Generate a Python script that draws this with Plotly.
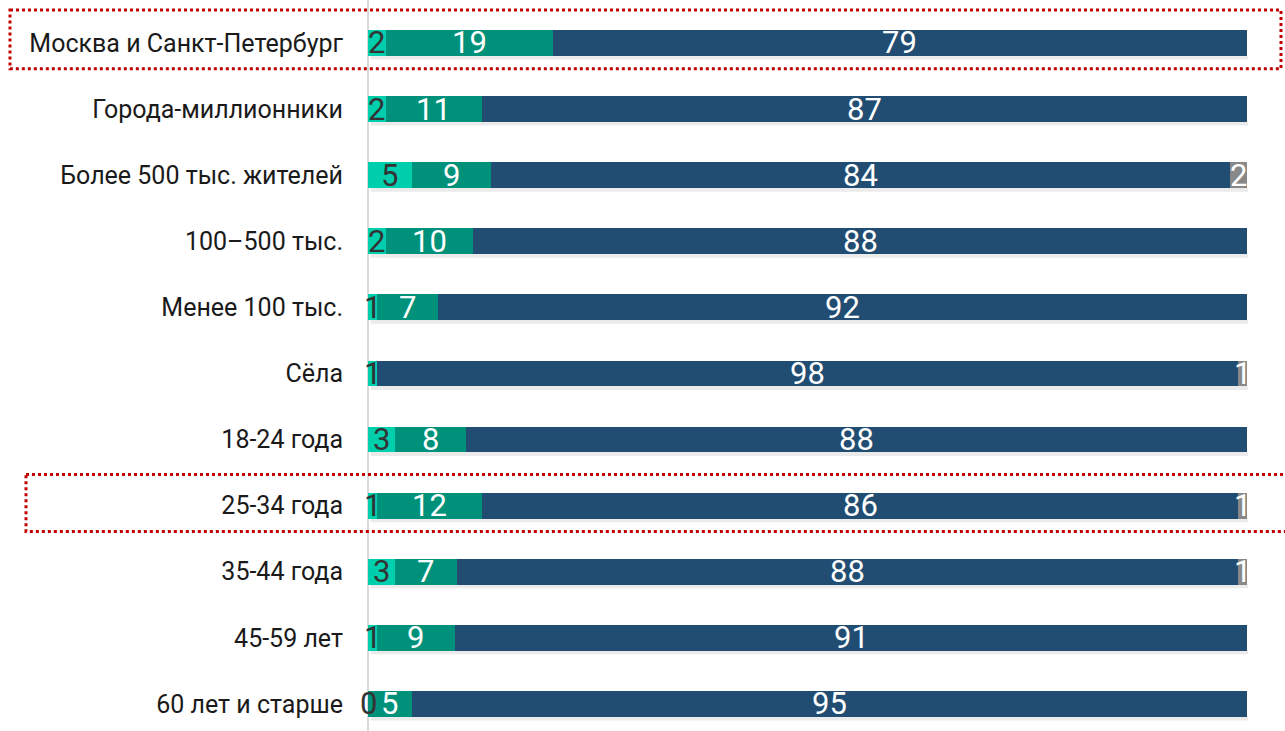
import plotly.graph_objects as go

categories = ["Москва и Санкт-Петербург", "Города-миллионники", "Более 500 тыс. жителей",
              "100–500 тыс.", "Менее 100 тыс.", "Сёла", "18-24 года", "25-34 года",
              "35-44 года", "45-59 лет", "60 лет и старше"]
s1 = [2, 2, 5, 2, 1, 1, 3, 1, 3, 1, 0]
s2 = [19, 11, 9, 10, 7, 0, 8, 12, 7, 9, 5]
s3 = [79, 87, 84, 88, 92, 98, 88, 86, 88, 91, 95]
s4 = [0, 0, 2, 0, 0, 1, 0, 1, 1, 0, 0]

series = [s1, s2, s3, s4]
colors = ["#00CFAE", "#00917A", "#214D72", "#888888"]
text_colors = ["#333333", "#FFFFFF", "#FFFFFF", "#FFFFFF"]
FONT = "Roboto"

fig = go.Figure()
for vals, col in zip(series, colors):
    fig.add_trace(go.Bar(y=categories, x=vals, orientation="h", marker_color=col,
                         marker_line_width=0, hoverinfo="skip"))

annotations = []
shapes = [
    dict(type="line", xref="paper", yref="paper", x0=0, x1=0, y0=0, y1=1,
         line=dict(color="#D9D9D9", width=2), layer="below"),
]
for i, cat in enumerate(categories):
    total = sum(s[i] for s in series)
    cum = 0
    for k, s in enumerate(series):
        v = s[i]
        if v > 0 or k == 0:
            xc = (cum + v / 2) / total * 100
            annotations.append(dict(x=xc, y=cat, xref="x", yref="y", text=str(v),
                                    showarrow=False, xanchor="center", yanchor="middle",
                                    font=dict(family=FONT, size=31, color=text_colors[k])))
        cum += v
    # soft shadow under each bar
    shapes.append(dict(type="rect", xref="x", yref="y", x0=0.3, x1=100.4,
                       y0=i + 0.19, y1=i + 0.25, line_width=0,
                       fillcolor="rgba(0,0,0,0.08)", layer="below"))

shapes += [
    dict(type="rect", xref="paper", yref="y", x0=(10 - 368) / 880, x1=(1281 - 368) / 880,
         y0=-0.5, y1=0.39, line=dict(color="#C00000", width=3, dash="dot")),
    dict(type="rect", xref="paper", yref="y", x0=(26 - 368) / 880, x1=(1300 - 368) / 880,
         y0=6.53, y1=7.39, line=dict(color="#C00000", width=3, dash="dot")),
]

fig.update_layout(
    barmode="stack", barnorm="percent", bargap=0.61,
    width=1285, height=731,
    margin=dict(l=368, r=37, t=0, b=0),
    paper_bgcolor="white", plot_bgcolor="white",
    showlegend=False, hovermode=False,
    annotations=annotations, shapes=shapes,
    xaxis=dict(range=[0, 100.1], visible=False),
    yaxis=dict(type="category", range=[10.41, -0.65], showgrid=False, showline=False,
               ticks="", ticklabelstandoff=24,
               tickfont=dict(family=FONT, size=25, color="#1A1A1A")),
)

fig.write_html("out.html", config={"displayModeBar": False},
               post_script="document.body.style.margin='0';")
